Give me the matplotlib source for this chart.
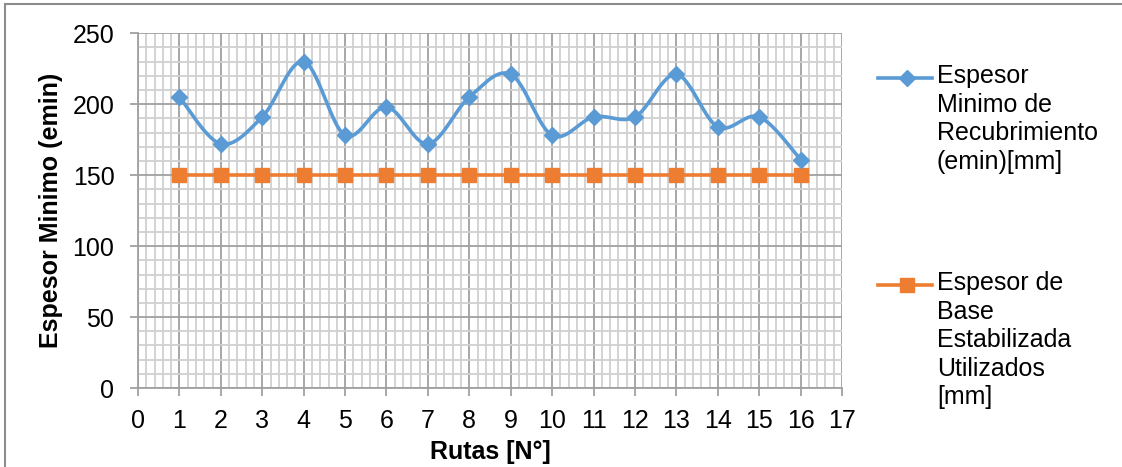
import numpy as np
import matplotlib.pyplot as plt
from matplotlib.lines import Line2D
from matplotlib.patches import Rectangle
from matplotlib.ticker import MultipleLocator

plt.rcParams['font.family'] = ['Liberation Sans', 'DejaVu Sans']

# Datos por ruta
rutas = [1, 2, 3, 4, 5, 6, 7, 8, 9, 10, 11, 12, 13, 14, 15, 16]
espesor_min = [205, 172, 191, 230, 178, 198, 172, 205, 221, 178, 191, 191, 221, 184, 191, 161]
espesor_base = [150] * 16

etiqueta_min = "Espesor\nMinimo de\nRecubrimiento\n(emin)[mm]"
etiqueta_base = "Espesor de\nBase\nEstabilizada\nUtilizados\n[mm]"

azul = '#5B9BD5'
naranja = '#ED7D31'
fs = 18


def suavizar(x, y, n=30):
    # curva suavizada tipo Excel (Bezier con tangentes Catmull-Rom)
    x = np.asarray(x, float)
    y = np.asarray(y, float)
    px = np.concatenate([[x[0]], x, [x[-1]]])
    py = np.concatenate([[y[0]], y, [y[-1]]])
    xs, ys = [], []
    t = np.linspace(0, 1, n)
    for i in range(1, len(px) - 2):
        p0 = np.array([px[i], py[i]])
        p3 = np.array([px[i + 1], py[i + 1]])
        c1 = p0 + (np.array([px[i + 1], py[i + 1]]) - np.array([px[i - 1], py[i - 1]])) / 6
        c2 = p3 - (np.array([px[i + 2], py[i + 2]]) - p0) / 6
        b = ((1 - t) ** 3)[:, None] * p0 + (3 * (1 - t) ** 2 * t)[:, None] * c1 \
            + (3 * (1 - t) * t ** 2)[:, None] * c2 + (t ** 3)[:, None] * p3
        xs.extend(b[:, 0])
        ys.extend(b[:, 1])
    return xs, ys


fig = plt.figure(figsize=(11.22, 4.67), dpi=100)
ax = fig.add_axes([0.123, 0.169, 0.6275, 0.76])

sx, sy = suavizar(rutas, espesor_min)
ax.plot(sx, sy, color=azul, lw=2.6, zorder=3, solid_capstyle='round')
ax.plot(rutas, espesor_min, 'D', color=azul, ms=8.5, zorder=4)
ax.plot(rutas, espesor_base, '-s', color=naranja, lw=2.6, ms=10.5, zorder=3)

ax.set_xlim(0, 17)
ax.set_ylim(0, 250)
ax.xaxis.set_major_locator(MultipleLocator(1))
ax.xaxis.set_minor_locator(MultipleLocator(0.2))
ax.yaxis.set_major_locator(MultipleLocator(50))
ax.yaxis.set_minor_locator(MultipleLocator(10))
ax.grid(which='minor', color='#D0D0D0', lw=1.3)
ax.grid(which='major', color='#A0A0A0', lw=1.3)
ax.set_axisbelow(True)

for s in ['top', 'right']:
    ax.spines[s].set_visible(False)
for s in ['left', 'bottom']:
    ax.spines[s].set_color('#A0A0A0')
    ax.spines[s].set_linewidth(1.3)

ax.tick_params(which='major', length=6, width=1.3, color='#A0A0A0', labelsize=fs)
ax.tick_params(axis='y', pad=11)
ax.tick_params(axis='x', pad=9)
ax.tick_params(which='minor', length=0)

ax.set_xlabel("Rutas [N°]", fontsize=fs, fontweight='bold', labelpad=5)
ax.set_ylabel("Espesor Minimo (emin)", fontsize=fs, fontweight='bold', labelpad=7)

# leyenda a la derecha
W, H = 1122, 467
for y_px, color, marker, ms, texto in [(78, azul, 'D', 8.5, etiqueta_min),
                                        (285, naranja, 's', 10.5, etiqueta_base)]:
    yf = 1 - y_px / H
    fig.add_artist(Line2D([878 / W, 932 / W], [yf, yf], color=color, lw=2.6))
    fig.add_artist(Line2D([907 / W], [yf], marker=marker, color=color, ms=ms))
    fig.text(937 / W, yf + 14 / H, texto, fontsize=fs, va='top', ha='left', linespacing=1.24)

# borde del área del gráfico
fig.add_artist(Rectangle((5 / W, -0.1), 1.2, 1.1 - 4 / H, transform=fig.transFigure,
                         fill=False, edgecolor='#8C8C8C', lw=1.5))

fig.savefig('out.png', dpi=100)
